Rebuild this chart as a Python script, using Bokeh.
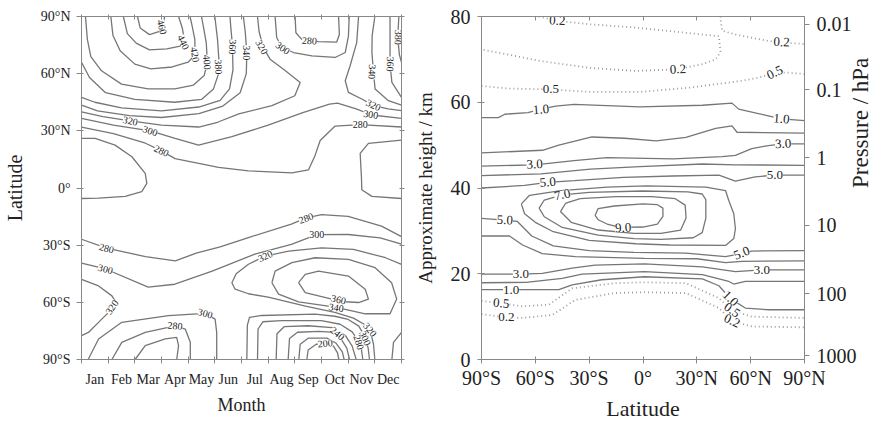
import math
from bokeh.plotting import figure
from bokeh.models import FixedTicker, LinearAxis, ColumnDataSource
from bokeh.layouts import row
from bokeh.core.properties import value
from bokeh.embed import file_html
from bokeh.resources import INLINE

SERIF = "Liberation Serif"

# ---------------- axes data ----------------
months = ["Jan", "Feb", "Mar", "Apr", "May", "Jun", "Jul", "Aug", "Sep", "Oct", "Nov", "Dec"]
month_centers = [0.5, 1.5, 2.5, 3.5, 4.5, 5.5, 6.5, 7.5, 8.5, 9.5, 10.5, 11.5]
month_edges = [0, 1, 2, 3, 4, 5, 6, 7, 8, 9, 10, 11, 12]
lat_ticks = [-90, -60, -30, 0, 30, 60, 90]
lat_labels = ["90°S", "60°S", "30°S", "0°", "30°N", "60°N", "90°N"]
height_ticks = [0, 20, 40, 60, 80]
pressure_heights_km = [0.93, 15.3, 31.3, 47.1, 62.9, 78.2]
pressure_labels = ["1000", "100", "10", "1", "0.1", "0.01"]

# ---------------- left panel: total ozone (DU), (month, latitude) ----------------
L460 = [(2.10, 90), (2.20, 84), (2.55, 80.5), (2.90, 82), (3.05, 86), (3.12, 90)]
L440 = [(1.57, 90), (1.72, 81), (2.05, 76), (2.55, 72.5), (3.2, 73), (3.7, 74.5), (3.85, 78), (3.78, 84), (3.64, 90)]
L420 = [(1.10, 90), (1.18, 80), (1.45, 72), (2.0, 65), (2.6, 62.5), (3.4, 63.5), (4.0, 66), (4.26, 70), (4.25, 78), (4.15, 85), (4.07, 90)]
L400 = [(0.15, 90), (0.22, 78), (0.35, 69), (0.75, 61.5), (1.5, 54.5), (2.5, 52), (3.5, 52), (4.2, 54), (4.6, 59), (4.72, 66), (4.68, 76), (4.58, 84), (4.5, 90)]
L380 = [(0, 66), (0.3, 58), (0.9, 50), (2.0, 46.5), (3.5, 45), (4.5, 46.5), (4.95, 52), (5.14, 60), (5.15, 68), (5.1, 78), (5.0, 90)]
L360 = [(0, 47.5), (0.5, 45), (1.5, 42), (3.0, 40.5), (4.4, 42.5), (5.2, 46), (5.55, 52), (5.68, 62), (5.66, 75), (5.6, 84), (5.57, 90)]
L340 = [(0, 43.5), (0.6, 40.5), (1.8, 38), (3.0, 37), (4.4, 39), (5.3, 43), (5.95, 50), (6.18, 60), (6.2, 71), (6.14, 82), (6.07, 90)]
L320a = [(0, 40), (0.8, 37.5), (1.83, 35.2), (3.0, 33), (4.4, 32), (5.1, 34.5), (5.9, 38.9), (7.14, 43.2), (8.0, 48.4), (8.2, 55.4), (7.6, 62), (7.07, 67.6), (6.82, 73.7), (6.66, 82), (6.6, 90)]
L300U = [(7.26, 90), (7.32, 79), (7.5, 74), (7.95, 71.1), (8.64, 69.3), (9.51, 68.5), (9.89, 71.1), (10.01, 79.7), (10.04, 90)]
L280U = [(8.01, 90), (8.04, 81.5), (8.26, 78), (8.51, 77.3), (8.89, 76.8), (9.57, 76.6), (9.67, 80.6), (9.64, 90)]
L320b = [(10.39, 90), (10.32, 76.3), (10.07, 64), (9.89, 56.3), (10.01, 50.2), (10.51, 46.7), (10.95, 43.2), (11.5, 41.5), (12, 40.6)]
L340b = [(11.0, 90), (10.9, 80), (10.89, 71.1), (10.95, 60.6), (11.01, 51.9), (11.51, 45.8), (12, 43.5)]
L360b = [(11.57, 90), (11.57, 65), (11.64, 55.4), (12, 47.5)]
L380b = [(11.9, 90), (11.86, 79), (11.92, 70), (12, 66)]
L300L = [(0, 36.5), (1.2, 33), (2.58, 30), (3.51, 26), (4.39, 22.5), (5.64, 26.9), (7.0, 33), (8.3, 39.5), (9.3, 44), (9.6, 44.5), (10.3, 41.5), (10.89, 38.3), (12, 36.5)]
L280L = [(0, 32), (1.2, 28.5), (2.4, 23.5), (3.0, 19.5), (3.51, 15.4), (5.14, 10.8), (6.26, 9), (7.89, 7.9), (8.51, 9.5), (8.76, 17.1), (8.95, 24.9), (9.51, 32.5), (10.45, 33.3), (12, 32)]
L260a = [(0, 26), (0.51, 26), (1.26, 22.5), (1.89, 16.4), (2.39, 7.7), (2.45, 2.4), (2.26, -1.9), (1.64, -4.4), (0.64, -5.3), (0, -5.5)]
L260b = [(12, 25.1), (10.76, 23.4), (10.45, 18.2), (10.5, 5), (10.51, -0.9), (10.89, -4.4), (12, -5.5)]
S280 = [(0, -26.9), (0.94, -31.6), (2.4, -36), (3.52, -38.2), (4.3, -34.2), (5.2, -30.9), (6.26, -26), (7.87, -19), (8.4, -15.8), (9.0, -14), (10.0, -14.9), (11.25, -20), (12, -25.5)]
S300 = [(0, -39.4), (0.9, -42.5), (2.5, -52), (3.5, -50.5), (4.9, -43.6), (6.5, -34.7), (7.87, -29.6), (8.82, -24.5), (10.0, -24.4), (11.2, -26.2), (12, -29.5)]
S320 = [(12, -40.1), (11.4, -36.6), (10.2, -32.2), (9.0, -31.4), (7.77, -33.1), (6.89, -35.7), (6.26, -40), (5.8, -45), (5.64, -49.7), (5.76, -53.1), (6.26, -55.5), (7.0, -57.3), (8.4, -62), (9.5, -65.3), (10.2, -68.3), (10.6, -71.5), (10.82, -74.3), (10.95, -82), (11.0, -90)]
S340 = [(7.14, -49.7), (7.26, -43.6), (7.89, -39.2), (8.76, -36.6), (10.01, -37.5), (11.01, -41.8), (11.63, -49.7), (11.82, -58.3), (11.57, -66), (10.64, -66), (9.51, -62.5), (8.14, -59.8), (7.39, -55.7), (7.14, -49.7)]
S360 = [(8.14, -49.7), (8.39, -45.3), (8.89, -43.6), (10.01, -46.2), (10.64, -53.1), (10.76, -58.3), (10.39, -60.1), (9.89, -59.7), (9.39, -58.3), (8.39, -54.9), (8.14, -49.7)]
S320c = [(11.64, -90), (11.7, -81), (12, -75.8)]
S320j = [(0, -47.9), (0.64, -51.4), (1.14, -56.6), (1.26, -59.2), (1.14, -63.6), (0.76, -68.8), (0.26, -75.8), (0, -77.5)]
S300a = [(0.25, -90), (0.64, -79.2), (1.51, -70.5), (3.26, -67), (4.64, -65.8), (5.01, -68.8), (5.07, -75.8), (5.07, -90)]
S280a = [(1.14, -90), (1.51, -81), (2.39, -75.8), (3.51, -72.3), (3.89, -74), (4.08, -81), (4.08, -90)]
S260a = [(2.01, -90), (2.39, -82.7), (3.14, -79.2), (3.57, -78.4), (3.64, -82.7), (3.57, -90)]
S300h = [(6.2, -90), (6.22, -72), (6.3, -67.9), (6.76, -66.9), (8.76, -66.2), (9.5, -67.3), (10.0, -69), (10.4, -72.5), (10.64, -78.4), (10.75, -84), (10.8, -90)]
S280h = [(6.6, -90), (6.62, -74), (6.8, -70.2), (7.5, -69.6), (9.0, -69.6), (9.7, -71.5), (10.15, -75.5), (10.39, -80.5), (10.5, -85), (10.55, -90)]
S260h = [(7.3, -90), (7.33, -76.5), (7.6, -72.8), (8.5, -72.3), (9.4, -73.3), (9.9, -77.5), (10.15, -83), (10.3, -90)]
S240h = [(7.75, -90), (7.8, -79), (8.1, -75.7), (8.9, -75.2), (9.35, -75.6), (9.7, -78.5), (9.95, -84), (10.05, -90)]
S220h = [(8.15, -90), (8.2, -82), (8.5, -78.8), (9.2, -78.8), (9.55, -81.5), (9.78, -86), (9.85, -90)]
S200h = [(8.45, -90), (8.5, -85), (8.8, -82), (9.14, -81.5), (9.45, -83), (9.6, -86.5), (9.65, -90)]

left_contours = [L460, L440, L420, L400, L380, L360, L340, L320a, L300U, L280U, L320b, L340b,
                 L360b, L380b, L300L, L280L, L260a, L260b, S280, S300, S320, S340, S360,
                 S320c, S320j, S300a, S280a, S260a, S300h, S280h, S260h, S240h, S220h, S200h]

# contour labels: (text, month, latitude, angle in degrees)
left_labels = [
    ("460", 3.02, 84.5, -75), ("440", 3.82, 76.5, -65), ("420", 4.26, 70, -80),
    ("400", 4.71, 66, -85), ("380", 5.14, 63.5, -88), ("360", 5.67, 74, -92),
    ("340", 6.2, 71, -90), ("320", 6.76, 74, -60), ("300", 7.55, 73.5, -35),
    ("280", 8.55, 77.3, -3), ("380", 11.88, 79, -92), ("360", 11.58, 65, -92),
    ("340", 10.9, 61, -92), ("320", 10.95, 43.5, -25), ("300", 10.85, 38.6, -8),
    ("280", 10.45, 33.3, 0), ("320", 1.83, 35.2, -12), ("300", 2.58, 30, -18),
    ("280", 3.0, 19.5, -25), ("280", 0.94, -31.6, -15), ("300", 0.9, -42.5, -15),
    ("320", 1.14, -62.5, 55), ("280", 8.42, -15.8, 20), ("300", 8.82, -24.5, 0),
    ("320", 6.89, -35.7, 25), ("360", 9.64, -58.5, -12), ("340", 9.55, -62.8, -8),
    ("320", 10.82, -74.3, -50), ("300", 10.64, -78.8, -65), ("280", 10.4, -81, -72),
    ("240", 9.6, -76.3, -40), ("200", 9.14, -81.5, 5), ("300", 4.64, -65.8, -15),
    ("280", 3.51, -72.3, -5),
]

# ---------------- right panel: ozone mixing ratio (ppmv), (latitude, height km) ----------------
R02a = [(-58, 80), (-47.8, 79.0), (-30, 78.2), (-3.6, 77.4), (14.8, 76.6), (33.1, 75.8), (42.3, 75.4), (43.2, 71.7), (40.5, 70.0), (33.1, 68.9), (19.4, 67.7), (-3.6, 67.3), (-29.3, 68.0), (-56.8, 69.6), (-75.1, 71.1), (-90, 72.3)]
R02b = [(43.2, 80), (43.2, 79.3), (44.1, 76.7), (51.5, 75.8), (69.8, 74.3), (77.2, 73.9), (90, 73.6)]
R05a = [(-90, 63.8), (-75.1, 63.2), (-51.3, 63.0), (-29.3, 62.4), (-1.8, 62.4), (25.8, 63.4), (53.3, 64.9), (64.3, 65.7), (73.5, 66.9), (80.8, 66.9), (90, 66.6)]
R10a = [(-90, 56.4), (-80.6, 56.4), (-77, 57.2), (-64.1, 57.6), (-56.8, 58.4), (-48.6, 59.1), (-38.4, 59.5), (-1.8, 58.9), (33.1, 59.3), (49.6, 59.8), (53.3, 58.4), (68, 57.0), (77.2, 56.1), (90, 55.7)]
R20a = [(-90, 48.2), (-56, 48.8), (-46.9, 50.0), (-28.5, 51.9), (-10.2, 51.6), (7.4, 51.0), (23.9, 51.8), (40.5, 53.9), (49.6, 54.5), (52.4, 53.0), (90, 52.8)]
R30a = [(-90, 45.1), (-60.4, 45.4), (-38.4, 46.4), (-20.1, 47.1), (16.6, 46.8), (44.1, 47.3), (51.5, 47.6), (60.6, 49.2), (69.8, 49.9), (78.1, 50.3), (90, 50.3)]
R40a = [(-90, 42.9), (-56.8, 43.3), (-29.3, 44.4), (-1.8, 45.0), (33.1, 45.6), (51.5, 45.4), (90, 45.3)]
R50a = [(-90, 40.0), (-66, 40.6), (-53.1, 41.3), (-38.4, 41.7), (-10.9, 42.5), (16.6, 42.8), (42.3, 43.0), (51.5, 41.6), (62.5, 42.6), (73.5, 43.0), (90, 43.0)]
R60 = [(-67.8, 36.3), (-63.2, 38.3), (-45.8, 39.4), (-20, 40.2), (2, 40.5), (35, 40.2), (46, 39.4), (47.8, 37.1), (50.6, 34.0), (51.5, 30.5), (50.6, 28.2), (46, 26.6), (15, 26.7), (-4, 27.0), (-30, 27.8), (-50, 29.8), (-60, 32), (-66, 34), (-67.8, 36.3)]
R70 = [(-57.9, 35.3), (-55, 37.2), (-45, 38.4), (-30, 39.0), (0, 39.3), (25, 39.1), (33, 38.6), (35, 37.3), (35, 32.9), (33, 29.6), (28, 28.4), (10, 28.0), (-5, 28.2), (-25, 29.0), (-45, 30.8), (-55, 33.3), (-57.9, 35.3)]
R80 = [(-46, 34.5), (-43, 36.5), (-35, 37.5), (-15, 38.0), (5, 38.0), (18, 37.5), (23.5, 36), (24, 33), (21, 30.2), (10, 29.4), (-5, 29.4), (-25, 30.2), (-40, 32.0), (-46, 34.5)]
R90 = [(-26.7, 33.6), (-25, 35.2), (-16, 35.8), (0, 36.3), (8, 36.1), (11.1, 35.3), (11.1, 33.4), (8, 31.6), (0, 30.9), (-12.8, 30.8), (-20, 31.6), (-25, 32.6), (-26.7, 33.6)]
R50b = [(-90, 32.9), (-77, 32.5), (-70, 32.2), (-66, 30.5), (-62, 28.8), (-50, 26.5), (-30, 25.4), (-5, 25.0), (23.9, 24.8), (46, 24.0), (56, 24.8), (60.6, 25.3), (90, 25.4)]
R40b = [(-90, 28.8), (-74.4, 28.8), (-67.1, 26.7), (-56.1, 24.7), (-37.7, 24.0), (0.8, 23.6), (30, 23.5), (46, 22.6), (55, 22.9), (90, 23.0)]
R30b = [(-90, 19.9), (-68, 19.9), (-56.1, 20.1), (-39.5, 21.3), (-26.7, 22.0), (0.8, 22.3), (33.1, 21.6), (51.5, 20.5), (66.2, 20.9), (90, 20.9)]
R20b = [(-90, 17.9), (-65.2, 18.0), (-45, 18.9), (-34, 19.9), (0.8, 20.5), (33.1, 19.8), (47.8, 18.2), (50.6, 17.6), (57, 18.2), (90, 18.2)]
R10b = [(-90, 16.3), (-73.5, 16.3), (-46.9, 16.3), (-39.5, 17.4), (-23, 18.6), (0.8, 19.3), (33.1, 18.8), (42.3, 17.2), (48.7, 14.2), (57, 12.0), (70, 11.6), (90, 11.6)]
R05b = [(-90, 13.7), (-79, 13.1), (-67.1, 12.4), (-52.4, 12.8), (-39.5, 16.6), (-15.7, 17.8), (0.8, 18.0), (23.9, 17.8), (42.3, 14.3), (49.6, 11.5), (60.6, 10.0), (90, 9.7)]
R02c = [(-90, 10.6), (-76.2, 9.8), (-67.1, 9.7), (-50.5, 10.4), (-37.7, 13.9), (-15.7, 15.5), (0.8, 15.7), (23.9, 15.5), (42.3, 12.0), (49.6, 9.0), (60.6, 7.7), (90, 7.5)]

right_solid = [R10a, R20a, R30a, R40a, R50a, R60, R70, R80, R90, R50b, R40b, R30b, R20b, R10b]
right_dotted = [R02a, R02b, R05a, R05b, R02c]

right_labels = [
    ("0.2", -47.8, 79.0, -3), ("0.2", 19.4, 67.7, 3), ("0.2", 77.2, 74.0, -3),
    ("0.5", -51.3, 63.0, 0), ("0.5", 73.5, 66.9, 25),
    ("1.0", -56.8, 58.3, 5), ("1.0", 77.2, 56.1, -5),
    ("3.0", -60.4, 45.5, 3), ("3.0", 78.1, 50.3, 3),
    ("5.0", -53.1, 41.3, 5), ("5.0", 73.5, 43.0, 0),
    ("7.0", -45, 38.4, 12), ("9.0", -11, 30.7, 3),
    ("5.0", -77, 32.5, -3), ("5.0", 55, 24.8, 22),
    ("3.0", -68, 19.9, 0), ("3.0", 66.2, 20.9, 0),
    ("1.0", -73.5, 16.3, 0), ("1.0", 48.7, 14.2, -45),
    ("0.5", -79, 13.1, -5), ("0.5", 49.6, 11.5, -35),
    ("0.2", -76.2, 9.8, 0), ("0.2", 49.6, 9.0, -25),
]

LINE = "#767676"
DOT = "#9a9a9a"
TXT = "#222222"
AX = "#888888"


def split(contours):
    return [[p[0] for p in c] for c in contours], [[p[1] for p in c] for c in contours]


def label_source(labels):
    return ColumnDataSource(dict(
        text=[l[0] for l in labels], x=[l[1] for l in labels], y=[l[2] for l in labels],
        angle=[math.radians(l[3]) for l in labels]))


def style_axis(ax, size):
    ax.axis_line_color = AX
    ax.major_tick_line_color = AX
    ax.minor_tick_line_color = AX
    ax.major_label_text_font = SERIF
    ax.major_label_text_font_size = size
    ax.major_label_text_color = TXT
    ax.axis_label_text_font = SERIF
    ax.axis_label_text_font_style = "normal"
    ax.axis_label_text_color = TXT


def hidden_axis(ticker, tin, tout):
    return LinearAxis(ticker=ticker, major_label_text_color=None, major_label_text_font_size="1px",
                      major_label_standoff=0, major_tick_in=tin, major_tick_out=tout,
                      minor_tick_line_color=None, axis_line_color=AX, major_tick_line_color=AX)


# ---------------- left figure ----------------
p1 = figure(width=408, height=424, x_range=(0, 12), y_range=(-90, 90),
            output_backend="svg", toolbar_location=None,
            min_border_left=81, min_border_right=7, min_border_top=16, min_border_bottom=65)
p1.grid.visible = False
p1.outline_line_color = AX
p1.background_fill_color = "white"

xs, ys = split(left_contours)
p1.multi_line(xs, ys, line_color=LINE, line_width=1.3)
p1.text(x="x", y="y", text="text", angle="angle", source=label_source(left_labels),
        text_font=value(SERIF), text_font_size="10px", text_color=TXT,
        text_align="center", text_baseline="middle",
        background_fill_color="white")

xa = p1.xaxis[0]
xa.ticker = FixedTicker(ticks=month_centers, minor_ticks=month_edges)
xa.major_label_overrides = {c: m for c, m in zip(month_centers, months)}
style_axis(xa, "14px")
xa.major_tick_line_color = None
xa.minor_tick_in = 3
xa.minor_tick_out = 4
xa.major_label_standoff = 6
xa.axis_label = "Month"
xa.axis_label_text_font_size = "18px"
xa.axis_label_standoff = 5

ya = p1.yaxis[0]
ya.ticker = FixedTicker(ticks=lat_ticks)
ya.major_label_overrides = {t: l for t, l in zip(lat_ticks, lat_labels)}
style_axis(ya, "14px")
ya.major_tick_in = 2
ya.major_tick_out = 5
ya.minor_tick_line_color = None
ya.major_label_standoff = 6
ya.axis_label = "Latitude"
ya.axis_label_text_font_size = "20px"
ya.axis_label_standoff = 12

p1.add_layout(hidden_axis(FixedTicker(ticks=month_edges), 3, 2), "above")
p1.add_layout(hidden_axis(FixedTicker(ticks=lat_ticks), 2, 3), "right")

# ---------------- right figure ----------------
p2 = figure(width=480, height=424, x_range=(-90, 90), y_range=(0, 80),
            output_backend="svg", toolbar_location=None,
            min_border_left=73, min_border_right=80, min_border_top=16, min_border_bottom=65)
p2.grid.visible = False
p2.outline_line_color = AX
p2.background_fill_color = "white"

xs, ys = split(right_solid)
p2.multi_line(xs, ys, line_color=LINE, line_width=1.3)
xs, ys = split(right_dotted)
p2.multi_line(xs, ys, line_color=DOT, line_width=1.8, line_dash="1 3")
p2.text(x="x", y="y", text="text", angle="angle", source=label_source(right_labels),
        text_font=value(SERIF), text_font_size="13px", text_color=TXT,
        text_align="center", text_baseline="middle",
        background_fill_color="white")

xb = p2.xaxis[0]
xb.ticker = FixedTicker(ticks=lat_ticks)
xb.major_label_overrides = {t: l for t, l in zip(lat_ticks, lat_labels)}
style_axis(xb, "20px")
xb.minor_tick_line_color = None
xb.major_tick_in = 3
xb.major_tick_out = 4
xb.major_label_standoff = 3
xb.axis_label = "Latitude"
xb.axis_label_text_font_size = "22px"
xb.axis_label_standoff = 4

yb = p2.yaxis[0]
yb.ticker = FixedTicker(ticks=height_ticks)
style_axis(yb, "20px")
yb.minor_tick_line_color = None
yb.major_tick_in = 3
yb.major_tick_out = 4
yb.major_label_standoff = 7
yb.axis_label = "Approximate height / km"
yb.axis_label_text_font_size = "19px"
yb.axis_label_standoff = 12

pa = LinearAxis(ticker=FixedTicker(ticks=pressure_heights_km),
                major_label_overrides={h: s for h, s in zip(pressure_heights_km, pressure_labels)},
                axis_label="Pressure / hPa")
style_axis(pa, "20px")
pa.minor_tick_line_color = None
pa.major_tick_in = 0
pa.major_tick_out = 5
pa.major_label_standoff = 7
pa.axis_label_text_font_size = "23px"
pa.axis_label_standoff = 1
pa.axis_label_orientation = math.pi / 2
p2.add_layout(pa, "right")
p2.add_layout(hidden_axis(FixedTicker(ticks=lat_ticks), 4, 0), "above")

layout = row(p1, p2)
open("out.html", "w").write(file_html(layout, INLINE))
